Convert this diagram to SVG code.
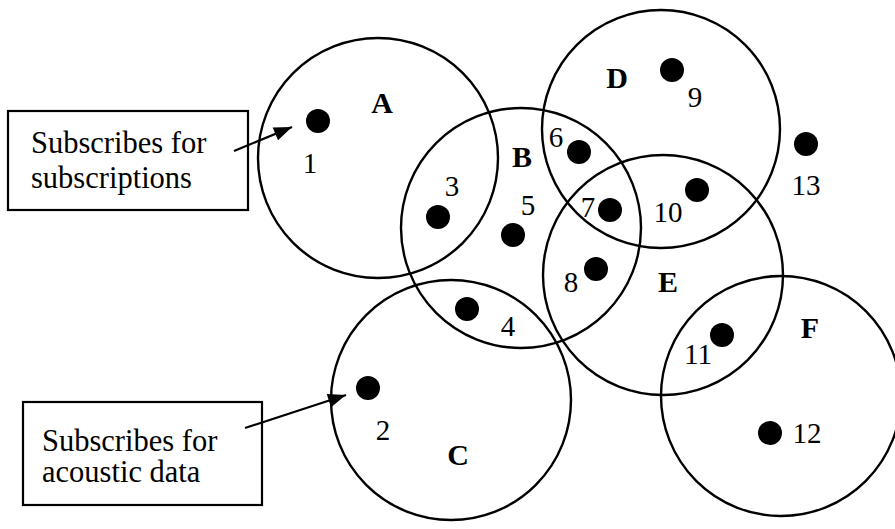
<svg xmlns="http://www.w3.org/2000/svg" width="895" height="529" viewBox="0 0 895 529">
<style>
.c{fill:none;stroke:#000;stroke-width:2.4}
.d{fill:#000}
.n{font-family:"Liberation Serif","Times New Roman",serif;font-size:29px;fill:#000;text-anchor:middle}
.l{font-family:"Liberation Serif","Times New Roman",serif;font-size:30px;font-weight:bold;fill:#000;text-anchor:middle}
.t{font-family:"Liberation Serif","Times New Roman",serif;font-size:30.5px;fill:#000}
.b{fill:#fff;stroke:#000;stroke-width:2.2}
.a{stroke:#000;stroke-width:2.2;fill:none}
</style>
<defs>
<marker id="ah" refX="18" refY="7" markerWidth="18" markerHeight="14" markerUnits="userSpaceOnUse" orient="auto" overflow="visible">
<path d="M0,0 L18,7 L0,14 Z" fill="#000"/>
</marker>
</defs>
<g id="circleA"><circle class="c" cx="378" cy="158" r="120"/><text class="l" x="382" y="113">A</text></g>
<g id="circleB"><circle class="c" cx="521" cy="228" r="120"/><text class="l" x="522" y="167">B</text></g>
<g id="circleC"><circle class="c" cx="451" cy="400" r="120"/><text class="l" x="458" y="465">C</text></g>
<g id="circleD"><circle class="c" cx="661" cy="129" r="119"/><text class="l" x="617" y="88">D</text></g>
<g id="circleE"><circle class="c" cx="663" cy="275" r="120"/><text class="l" x="668" y="292">E</text></g>
<g id="circleF"><circle class="c" cx="781" cy="396" r="120"/><text class="l" x="810" y="338">F</text></g>
<g id="node1"><circle class="d" cx="318" cy="121" r="12"/><text class="n" x="310" y="173">1</text></g>
<g id="node2"><circle class="d" cx="368" cy="388" r="12"/><text class="n" x="383" y="440">2</text></g>
<g id="node3"><circle class="d" cx="438" cy="217" r="12"/><text class="n" x="452" y="196">3</text></g>
<g id="node4"><circle class="d" cx="467" cy="309" r="12"/><text class="n" x="508" y="336">4</text></g>
<g id="node5"><circle class="d" cx="513" cy="235" r="12"/><text class="n" x="528" y="215">5</text></g>
<g id="node6"><circle class="d" cx="579" cy="152" r="12"/><text class="n" x="556" y="147">6</text></g>
<g id="node7"><circle class="d" cx="610" cy="210" r="12"/><text class="n" x="588" y="217">7</text></g>
<g id="node8"><circle class="d" cx="596" cy="269" r="12"/><text class="n" x="571" y="292">8</text></g>
<g id="node9"><circle class="d" cx="672" cy="70" r="12"/><text class="n" x="695" y="107">9</text></g>
<g id="node10"><circle class="d" cx="697" cy="190" r="12"/><text class="n" x="668" y="222">10</text></g>
<g id="node11"><circle class="d" cx="722" cy="335" r="12"/><text class="n" x="698" y="364">11</text></g>
<g id="node12"><circle class="d" cx="770" cy="433" r="12"/><text class="n" x="807" y="443">12</text></g>
<g id="node13"><circle class="d" cx="806" cy="144" r="12"/><text class="n" x="806" y="195">13</text></g>
<g id="box1"><rect class="b" x="8" y="111" width="240" height="99"/><text class="t" x="31" y="153">Subscribes for</text><text class="t" x="31" y="188">subscriptions</text></g>
<g id="box2"><rect class="b" x="23" y="402" width="239" height="103"/><text class="t" x="42" y="451">Subscribes for</text><text class="t" x="42" y="482">acoustic data</text></g>
<g id="connectors">
<line class="a" x1="234" y1="151" x2="292" y2="127" marker-end="url(#ah)"/>
<line class="a" x1="245" y1="428" x2="346" y2="395" marker-end="url(#ah)"/>
</g>
</svg>
